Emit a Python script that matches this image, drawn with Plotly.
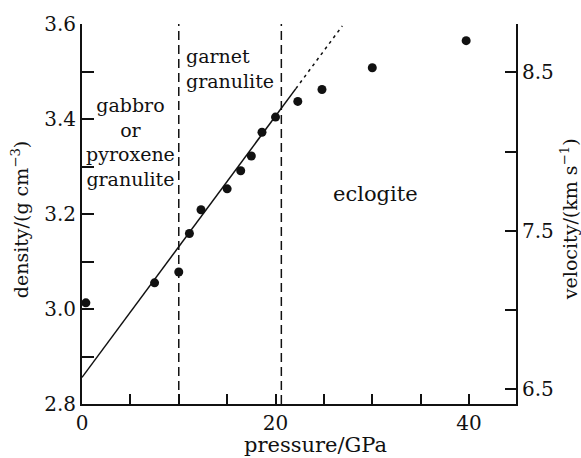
import plotly.graph_objects as go

# Data
pressure = [0.4, 7.5, 10.0, 11.1, 12.3, 15.0, 16.4, 17.5, 18.6, 20.0, 22.3, 24.8, 30.0, 39.7]
density = [3.013, 3.055, 3.078, 3.159, 3.209, 3.253, 3.291, 3.322, 3.372, 3.404, 3.437, 3.462, 3.508, 3.565]

fit_x = [0.0, 22.1]
fit_y = [2.856, 3.464]
ext_x = [22.1, 26.9]
ext_y = [3.464, 3.596]

boundaries = [10.0, 20.6]

density_ticks = [2.8, 3.0, 3.2, 3.4, 3.6]
density_labels = ["2.8", "3.0", "3.2", "3.4", "3.6"]
pressure_ticks = [0, 20, 40]
pressure_labels = ["0", "20", "40"]
velocity_ticks = [6.5, 7.5, 8.5]
velocity_labels = ["6.5", "7.5", "8.5"]

FONT = "DejaVu Serif"
BLACK = "#111111"

fig = go.Figure()

fig.add_trace(go.Scatter(x=fit_x, y=fit_y, mode="lines",
                         line=dict(color=BLACK, width=1.5), showlegend=False))
fig.add_trace(go.Scatter(x=ext_x, y=ext_y, mode="lines",
                         line=dict(color=BLACK, width=1.5, dash="3px,4px"), showlegend=False))
fig.add_trace(go.Scatter(x=pressure, y=density, mode="markers",
                         marker=dict(color=BLACK, size=9), showlegend=False))
fig.add_trace(go.Scatter(x=[], y=[], yaxis="y2", showlegend=False))

for b in boundaries:
    fig.add_shape(type="line", x0=b, x1=b, y0=2.8, y1=3.6, xref="x", yref="y",
                  line=dict(color=BLACK, width=1.5, dash="9px,5px"))

fig.add_annotation(x=5.06, y=3.351, xref="x", yref="y", showarrow=False,
                   text="gabbro<br>or<br>pyroxene<br>granulite", align="center",
                   font=dict(family=FONT, size=19, color=BLACK))
fig.add_annotation(x=10.54, y=3.506, xref="x", yref="y", showarrow=False,
                   xanchor="left", yanchor="middle",
                   text="garnet<br>granulite", align="left",
                   font=dict(family=FONT, size=19, color=BLACK))
fig.add_annotation(x=30.3, y=3.243, xref="x", yref="y", showarrow=False,
                   text="eclogite", font=dict(family=FONT, size=21, color=BLACK))

fig.add_annotation(x=-0.143, y=0.486, xref="paper", yref="paper", showarrow=False,
                   xanchor="center", yanchor="middle",
                   text="density/(g cm<sup>−3</sup>)", textangle=-90,
                   font=dict(family=FONT, size=19, color=BLACK))
fig.add_annotation(x=1.124, y=0.486, xref="paper", yref="paper", showarrow=False,
                   xanchor="center", yanchor="middle",
                   text="velocity/(km s<sup>−1</sup>)", textangle=-90,
                   font=dict(family=FONT, size=19, color=BLACK))
fig.add_annotation(x=0.539, y=-0.108, xref="paper", yref="paper", showarrow=False,
                   xanchor="center", yanchor="middle",
                   text="pressure/GPa", font=dict(family=FONT, size=21, color=BLACK))

fig.update_layout(
    width=581, height=458,
    margin=dict(l=82, r=65, t=21, b=54),
    paper_bgcolor="white", plot_bgcolor="white",
    font=dict(family=FONT, size=20, color=BLACK),
    xaxis=dict(range=[0, 44.85], showgrid=False, zeroline=False,
               showline=True, linecolor=BLACK, linewidth=2,
               ticks="inside", ticklen=10, tickwidth=2, tickcolor=BLACK,
               tickvals=pressure_ticks, ticktext=pressure_labels,
               minor=dict(dtick=5, tick0=0, ticks="inside", ticklen=10,
                          tickwidth=2, tickcolor=BLACK, showgrid=False)),
    yaxis=dict(range=[2.8, 3.6], showgrid=False, zeroline=False,
               showline=True, linecolor=BLACK, linewidth=2,
               ticks="inside", ticklen=8, tickwidth=2, tickcolor=BLACK,
               tickvals=density_ticks, ticktext=density_labels,
               minor=dict(dtick=0.1, tick0=2.8, ticks="inside", ticklen=12,
                          tickwidth=2, tickcolor=BLACK, showgrid=False)),
    yaxis2=dict(range=[6.406, 8.806], overlaying="y", side="right",
                showgrid=False, zeroline=False,
                showline=True, linecolor=BLACK, linewidth=2,
                ticks="inside", ticklen=11, tickwidth=2, tickcolor=BLACK,
                tickvals=velocity_ticks, ticktext=velocity_labels,
                minor=dict(dtick=0.5, tick0=6.5, ticks="inside", ticklen=11,
                           tickwidth=2, tickcolor=BLACK, showgrid=False)),
)

fig.write_html("out.html", config={"displayModeBar": False},
               post_script="document.body.style.margin='0px';")
